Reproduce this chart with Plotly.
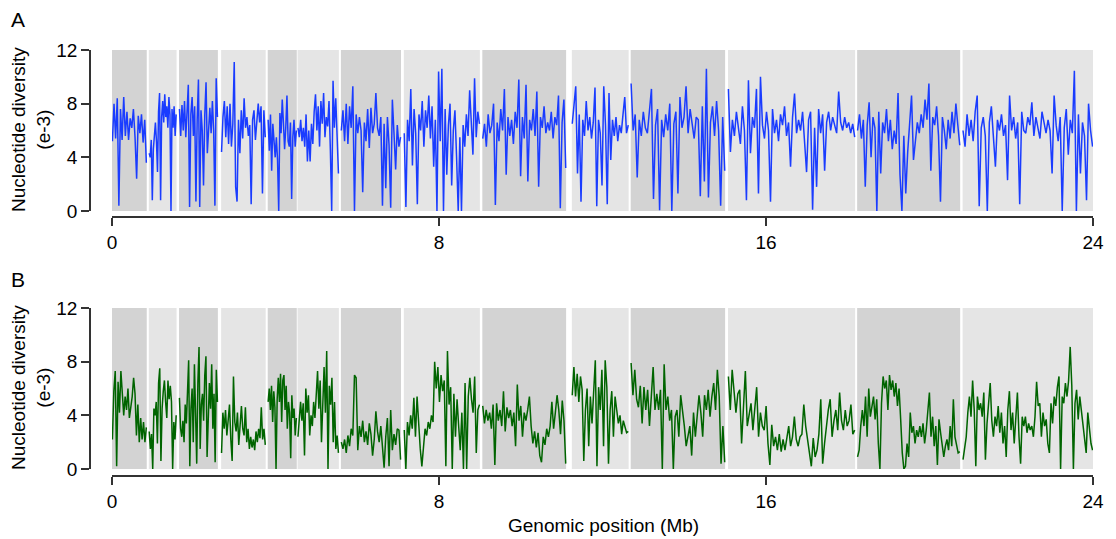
import numpy as np
import plotly.graph_objects as go

# ---------------- data ----------------
# Chromosome / scaffold segments (Mb)
seg_start = [0.0, 0.90, 1.64, 2.67, 3.81, 4.54, 5.60, 7.14, 9.06, 11.25, 12.69, 15.07, 18.23, 20.81]
seg_end = [0.85, 1.58, 2.59, 3.76, 4.52, 5.55, 7.07, 9.00, 11.11, 12.64, 15.00, 18.18, 20.75, 24.0]
seg_shade = ["dark", "light"] * 7

x_ticks = [0, 8, 16, 24]
y_ticks = [0, 4, 8, 12]

# Panel A: nucleotide diversity (e-3), per segment
a_seg01 = [5.2, 8.0, 5.4, 8.4, 0.4, 7.6, 5.3, 8.5, 5.6, 7.4, 5.3, 6.9, 6.2, 7.6, 5.5, 2.4, 7.1, 5.8, 7.2, 5.1, 6.8, 3.6]
a_seg02 = [4.3, 4.0, 5.3, 0.8, 4.6, 5.8, 6.6, 5.2, 2.9, 7.4, 8.8, 0.8, 7.0, 8.2, 6.6, 8.7, 7.0, 7.8, 6.2, 8.5, 7.2, 0.0, 7.6, 6.2, 7.8, 5.6, 7.2]
a_seg03 = [7.6, 5.6, 7.9, 6.0, 8.2, 5.5, 7.4, 9.4, 0.3, 7.2, 8.5, 5.6, 7.8, 0.7, 6.8, 9.8, 0.3, 7.5, 6.0, 1.9, 7.2, 9.6, 4.3, 6.4, 7.7, 5.8, 8.2, 6.0, 0.4, 9.9, 7.0]
a_seg04 = [4.4, 7.0, 8.2, 5.5, 7.8, 5.0, 8.0, 4.8, 6.5, 11.1, 1.8, 0.7, 6.8, 4.3, 7.5, 5.4, 8.4, 6.2, 7.0, 5.6, 6.4, 0.5, 6.8, 7.5, 5.3, 6.5, 8.0, 6.6, 7.8, 1.3, 7.5, 5.5]
a_seg05 = [6.8, 4.5, 7.2, 3.0, 6.5, 5.0, 4.0, 5.5, 3.8, 0.0, 7.3, 5.8, 8.3, 6.6, 4.6, 6.2, 8.6, 5.2, 4.8, 6.6, 0.9, 5.5, 6.8, 4.8, 6.0]
a_seg06 = [6.2, 5.5, 6.8, 5.2, 6.2, 4.8, 7.2, 3.7, 6.0, 3.7, 6.5, 5.0, 7.4, 8.7, 6.0, 7.8, 4.8, 8.2, 6.5, 8.8, 5.5, 7.0, 6.3, 8.2, 4.6, 0.0, 9.7, 6.2, 8.4, 5.5, 2.8]
a_seg07 = [6.0, 7.5, 5.2, 8.0, 5.0, 7.8, 6.2, 9.3, 0.0, 7.2, 5.8, 7.0, 6.0, 1.4, 6.6, 5.2, 7.6, 4.7, 7.7, 5.8, 6.5, 8.8, 6.2, 5.6, 7.0, 0.4, 6.5, 1.7, 7.0, 4.9, 0.25, 8.3, 5.8, 3.1, 6.4, 4.8, 5.5]
a_seg08 = [5.8, 0.3, 6.8, 5.2, 9.1, 3.4, 7.6, 5.8, 0.5, 7.2, 6.0, 8.2, 4.8, 7.5, 6.2, 8.6, 5.4, 7.8, 3.3, 6.8, 0.0, 10.4, 5.2, 10.6, 0.0, 7.6, 2.7, 6.4, 8.0, 1.9, 6.0, 7.5, 4.0, 0.0, 5.5, 0.0, 6.4, 4.8, 7.2, 5.6, 9.0, 6.2, 4.2, 9.9, 5.5, 7.4, 6.5]
a_seg09 = [5.4, 6.5, 4.8, 7.2, 5.8, 6.4, 8.0, 0.45, 6.6, 5.2, 7.6, 6.0, 9.1, 2.7, 7.0, 5.6, 6.8, 5.0, 7.4, 6.2, 9.8, 2.6, 7.0, 5.4, 9.4, 2.2, 6.8, 6.0, 7.6, 5.6, 8.9, 1.8, 7.0, 6.2, 7.8, 5.8, 6.6, 6.0, 7.4, 5.4, 7.0, 6.4, 8.6, 0.2, 6.6, 8.3, 3.2]
a_seg10 = [6.5, 8.0, 9.3, 2.8, 7.2, 0.7, 6.8, 5.6, 8.2, 6.0, 7.0, 5.4, 6.6, 9.2, 0.35, 6.8, 5.8, 1.9, 9.3, 6.4, 0.5, 8.8, 3.8, 6.8, 5.6, 7.0, 5.2, 6.4, 5.8, 7.2, 8.5, 5.8, 6.4]
a_seg11 = [9.5, 6.0, 7.2, 2.5, 6.8, 5.6, 7.4, 6.2, 5.8, 7.8, 9.1, 0.9, 6.4, 7.6, 0.05, 6.8, 5.5, 7.2, 6.0, 8.0, 0.0, 6.5, 7.4, 1.3, 8.5, 6.2, 7.0, 9.3, 5.8, 7.6, 6.4, 5.4, 7.0, 6.8, 1.1, 7.8, 2.2, 10.6, 1.0, 6.6, 7.8, 5.6, 8.2, 6.0, 0.4, 7.0, 3.0]
a_seg12 = [9.1, 4.4, 6.8, 5.6, 7.4, 6.2, 5.0, 7.8, 6.0, 0.8, 9.75, 4.3, 7.0, 6.2, 9.1, 1.3, 10.0, 6.4, 5.4, 7.4, 6.0, 0.7, 7.6, 5.8, 6.8, 5.2, 7.2, 6.4, 7.8, 5.6, 6.6, 3.3, 7.0, 8.75, 5.8, 6.8, 6.0, 7.4, 5.4, 2.9, 6.8, 7.4, 0.1, 6.2, 1.8, 7.6, 5.8, 7.2, 3.0, 6.6, 7.4, 6.0, 7.0, 6.4, 5.8, 8.9, 6.6, 6.0, 7.0, 6.2, 6.6, 5.8, 6.5, 5.5]
a_seg13 = [6.0, 7.2, 5.4, 6.8, 1.8, 6.4, 8.1, 4.0, 7.0, 6.2, 0.0, 7.4, 2.8, 6.6, 5.8, 7.6, 5.2, 6.8, 4.6, 6.0, 5.0, 8.8, 2.7, 0.0, 5.6, 1.3, 4.4, 6.4, 8.6, 3.8, 5.2, 6.6, 5.8, 7.2, 6.2, 8.3, 6.8, 9.5, 3.0, 7.0, 6.4, 7.8, 5.6, 0.7, 7.0, 6.0, 4.6, 6.8, 5.4, 7.4, 5.8, 8.0, 6.4, 4.9]
a_seg14 = [6.0, 4.8, 7.2, 5.6, 6.8, 5.2, 7.4, 8.6, 0.35, 6.2, 7.0, 5.6, 0.0, 6.6, 7.8, 5.4, 3.3, 6.8, 6.0, 7.2, 5.6, 6.4, 2.3, 8.6, 6.0, 7.0, 5.4, 6.6, 0.5, 7.4, 6.0, 5.8, 7.0, 6.4, 8.1, 5.6, 7.0, 6.2, 5.4, 7.4, 6.6, 5.8, 6.8, 6.0, 2.8, 8.6, 6.4, 5.2, 7.0, 0.0, 6.2, 7.6, 4.2, 6.8, 5.8, 10.45, 0.0, 7.2, 2.8, 6.6, 5.6, 0.8, 8.0, 6.0, 4.8]

# Panel B: nucleotide diversity (e-3), per segment
b_seg01 = [2.2, 5.8, 7.3, 0.2, 6.5, 4.2, 7.3, 5.6, 4.0, 5.4, 4.4, 6.0, 3.8, 4.6, 5.4, 6.8, 5.6, 2.5, 4.8, 2.0, 3.8, 2.2, 3.5, 2.0, 3.1]
b_seg02 = [2.8, 1.5, 2.6, 0.0, 4.5, 4.0, 5.0, 1.9, 6.4, 7.5, 0.6, 4.5, 5.8, 6.6, 5.0, 3.8, 6.6, 5.2, 6.2, 5.0, 0.0, 3.5, 2.2, 4.0]
b_seg03 = [5.3, 3.0, 2.4, 3.6, 2.0, 4.8, 3.4, 5.6, 8.1, 0.2, 4.5, 6.0, 2.0, 7.8, 4.2, 0.4, 6.4, 9.1, 1.5, 4.8, 5.6, 3.6, 7.0, 8.4, 0.9, 3.8, 6.4, 4.5, 7.8, 3.0, 5.6, 0.5, 7.4, 5.0]
b_seg04 = [1.2, 4.2, 3.0, 4.4, 2.5, 3.6, 4.8, 2.2, 0.6, 6.9, 3.5, 2.8, 4.2, 1.8, 3.8, 4.7, 3.0, 2.5, 4.6, 2.0, 3.0, 1.5, 2.4, 1.6, 2.2, 1.4, 2.8, 2.0, 3.0, 2.3, 4.6, 2.2, 3.0, 1.8]
b_seg05 = [5.0, 6.0, 4.4, 6.2, 3.5, 5.8, 4.6, 0.0, 5.2, 6.8, 5.0, 7.1, 3.5, 6.6, 7.0, 4.4, 6.2, 3.0, 5.0, 4.2, 0.8, 5.5, 3.8, 4.5, 2.5, 3.8]
b_seg06 = [2.4, 4.0, 5.0, 3.6, 4.9, 1.0, 6.0, 4.2, 5.5, 2.5, 4.0, 3.2, 5.0, 3.8, 5.5, 7.3, 4.5, 6.6, 2.0, 5.8, 7.6, 4.2, 8.8, 0.0, 6.2, 4.8, 6.8, 2.0, 5.0, 1.5, 2.5, 1.2]
b_seg07 = [2.0, 1.5, 2.2, 1.2, 2.5, 1.7, 3.0, 2.5, 7.0, 6.8, 1.4, 3.2, 2.4, 3.6, 2.0, 2.8, 1.8, 3.4, 2.6, 1.0, 2.2, 4.3, 2.8, 2.0, 3.2, 1.6, 0.1, 2.4, 3.8, 0.2, 4.4, 1.4, 2.6, 1.8, 3.0, 2.9, 0.7]
b_seg08 = [2.9, 0.0, 3.5, 2.5, 4.0, 3.0, 5.3, 2.4, 5.4, 3.2, 1.5, 0.2, 2.0, 3.0, 2.5, 3.5, 3.0, 4.0, 3.5, 8.0, 6.0, 7.6, 5.0, 7.0, 5.8, 6.6, 0.2, 8.8, 4.8, 6.1, 0.0, 5.6, 2.4, 5.2, 3.2, 1.4, 4.2, 0.0, 6.4, 0.0, 5.4, 6.8, 5.2, 4.2, 6.9, 1.2, 4.4, 4.8]
b_seg09 = [4.7, 3.4, 4.4, 3.6, 4.2, 3.0, 4.8, 0.3, 4.9, 3.6, 4.4, 3.2, 5.8, 2.8, 4.6, 3.8, 4.4, 3.2, 4.2, 1.7, 6.3, 3.6, 4.7, 2.4, 4.2, 3.6, 4.4, 5.4, 3.2, 1.9, 2.8, 1.6, 2.7, 1.0, 0.5, 2.4, 1.8, 3.0, 2.4, 3.2, 5.0, 3.0, 4.2, 5.5, 4.4, 2.6, 5.1, 3.6, 0.4]
b_seg10 = [5.5, 7.6, 5.4, 7.1, 5.0, 6.9, 5.9, 0.6, 4.4, 6.0, 1.7, 5.4, 3.4, 5.6, 8.1, 0.2, 6.1, 4.4, 7.4, 1.7, 8.1, 6.1, 0.4, 4.4, 5.8, 2.4, 5.4, 4.4, 3.4, 4.0, 2.6, 3.6, 3.2, 2.7, 2.8]
b_seg11 = [7.9, 5.5, 7.4, 5.2, 4.6, 6.2, 3.4, 6.1, 4.4, 5.9, 3.2, 5.2, 7.6, 4.4, 5.6, 4.4, 5.9, 0.0, 7.8, 4.4, 5.4, 3.6, 4.4, 0.0, 3.9, 4.4, 2.4, 5.5, 4.4, 3.2, 1.7, 2.4, 3.2, 1.0, 4.2, 2.4, 3.9, 5.5, 4.2, 2.4, 5.5, 4.4, 5.9, 3.9, 5.4, 6.4, 4.4, 7.4, 5.4, 0.4, 3.2, 0.5]
b_seg12 = [6.9, 4.4, 7.4, 5.5, 4.2, 5.6, 5.9, 1.9, 4.4, 7.3, 3.2, 4.2, 4.9, 2.9, 4.6, 6.1, 2.4, 4.2, 3.2, 2.9, 4.7, 1.9, 0.3, 3.3, 1.7, 2.4, 1.4, 2.6, 1.3, 2.2, 1.4, 2.4, 3.2, 1.7, 2.4, 3.9, 2.2, 1.7, 2.4, 2.6, 4.8, 3.2, 2.2, 1.2, 0.2, 2.3, 0.9, 1.4, 2.6, 5.2, 0.4, 1.9, 3.2, 4.4, 5.2, 2.4, 3.6, 4.4, 2.9, 5.7, 3.6, 2.9, 4.4, 3.2, 3.6, 4.8, 2.6, 2.9]
b_seg13 = [0.9, 1.4, 3.2, 4.4, 3.2, 5.4, 2.4, 6.0, 3.9, 4.7, 5.4, 3.7, 5.2, 1.9, 0.0, 4.9, 6.9, 6.0, 6.6, 4.4, 7.0, 5.9, 6.6, 5.4, 6.4, 4.7, 6.0, 3.7, 1.2, 0.0, 0.2, 1.9, 0.9, 4.2, 2.7, 3.2, 1.9, 2.9, 2.4, 3.2, 2.4, 3.4, 1.9, 2.9, 4.2, 5.7, 2.4, 3.9, 1.7, 3.2, 0.3, 3.7, 2.7, 1.9, 0.9, 1.7, 2.2, 1.4, 3.2, 1.7, 5.2, 2.4, 1.7, 1.2, 1.3]
b_seg14 = [0.7, 1.4, 2.4, 4.2, 5.4, 3.9, 6.6, 4.4, 0.2, 5.4, 4.4, 4.9, 3.9, 5.7, 0.7, 3.4, 4.9, 6.4, 3.6, 2.4, 3.9, 3.2, 4.7, 2.7, 4.2, 1.9, 3.2, 0.9, 4.4, 5.8, 2.9, 4.2, 1.9, 3.7, 5.7, 2.4, 0.4, 3.9, 3.2, 3.9, 2.7, 3.4, 2.9, 3.2, 2.4, 3.9, 6.5, 4.7, 4.9, 2.4, 4.2, 3.2, 3.7, 1.9, 1.2, 4.9, 3.4, 5.4, 4.7, 6.1, 6.9, 0.0, 5.4, 4.9, 6.4, 5.4, 6.6, 9.1, 6.2, 0.0, 4.9, 5.9, 3.7, 5.4, 4.4, 3.4, 2.4, 1.2, 4.2, 3.2, 1.9, 1.4]

panel_a = [a_seg01, a_seg02, a_seg03, a_seg04, a_seg05, a_seg06, a_seg07,
           a_seg08, a_seg09, a_seg10, a_seg11, a_seg12, a_seg13, a_seg14]
panel_b = [b_seg01, b_seg02, b_seg03, b_seg04, b_seg05, b_seg06, b_seg07,
           b_seg08, b_seg09, b_seg10, b_seg11, b_seg12, b_seg13, b_seg14]

# ---------------- figure ----------------
W, H = 1116, 539
SHADE = {"dark": "#d3d3d3", "light": "#e5e5e5"}
AXCOL = "#333333"
FONT = "Liberation Sans, Arial, sans-serif"
FS = 19


def build(segs):
    xs, ys = [], []
    for s, e, vals in zip(seg_start, seg_end, segs):
        n = len(vals)
        xs += list(np.linspace(s + 0.01, e - 0.01, n)) + [None]
        ys += list(vals) + [None]
    return xs, ys


xa, ya = build(panel_a)
xb, yb = build(panel_b)

fig = go.Figure()
fig.add_trace(go.Scatter(x=xa, y=ya, mode="lines", xaxis="x", yaxis="y",
                         line=dict(color="#1a3cff", width=1.5), showlegend=False))
fig.add_trace(go.Scatter(x=xb, y=yb, mode="lines", xaxis="x2", yaxis="y2",
                         line=dict(color="#006400", width=1.5), showlegend=False))

shapes = []
for xr, yr in (("x", "y"), ("x2", "y2")):
    for s, e, sh in zip(seg_start, seg_end, seg_shade):
        shapes.append(dict(type="rect", xref=xr, yref=yr, x0=s, x1=e, y0=0, y1=12,
                           fillcolor=SHADE[sh], line=dict(width=0), layer="below"))


def px_x(p):
    return p / W


def px_y(p):
    return 1 - p / H


xdom = [px_x(112), px_x(1093)]
common_x = dict(range=[0, 24], tickvals=x_ticks, ticks="outside", ticklen=8, tickwidth=1.5,
                tickcolor=AXCOL, showline=True, linecolor=AXCOL, linewidth=1.5,
                showgrid=False, zeroline=False, anchor="free", automargin=False,
                tickfont=dict(size=FS, color="black", family=FONT), domain=xdom)
common_y = dict(range=[0, 12], tickvals=y_ticks, ticks="outside", ticklen=8, tickwidth=1.5,
                tickcolor=AXCOL, showline=True, linecolor=AXCOL, linewidth=1.5,
                showgrid=False, zeroline=False, anchor="free", position=px_x(90),
                automargin=False,
                tickfont=dict(size=FS, color="black", family=FONT))

fig.update_layout(
    width=W, height=H,
    margin=dict(l=0, r=0, t=0, b=0, pad=0, autoexpand=False),
    paper_bgcolor="white", plot_bgcolor="white",
    font=dict(family=FONT, color="black", size=FS),
    xaxis=dict(common_x, position=px_y(217)),
    yaxis=dict(common_y, domain=[px_y(211), px_y(50)]),
    xaxis2=dict(common_x, position=px_y(476)),
    yaxis2=dict(common_y, domain=[px_y(469), px_y(308)]),
    shapes=shapes,
    annotations=[
        dict(text="A", x=px_x(18), y=px_y(20), xref="paper", yref="paper",
             showarrow=False, font=dict(size=21), xanchor="center", yanchor="middle"),
        dict(text="B", x=px_x(18), y=px_y(279), xref="paper", yref="paper",
             showarrow=False, font=dict(size=21), xanchor="center", yanchor="middle"),
        dict(text="Nucleotide diversity<br>(e-3)", x=px_x(31), y=px_y(130),
             xref="paper", yref="paper", showarrow=False, textangle=-90,
             font=dict(size=FS), xanchor="center", yanchor="middle"),
        dict(text="Nucleotide diversity<br>(e-3)", x=px_x(31), y=px_y(388),
             xref="paper", yref="paper", showarrow=False, textangle=-90,
             font=dict(size=FS), xanchor="center", yanchor="middle"),
        dict(text="Genomic position (Mb)", x=px_x(603), y=px_y(525),
             xref="paper", yref="paper", showarrow=False,
             font=dict(size=FS), xanchor="center", yanchor="middle"),
    ],
)

fig.write_html("out.html", config={"displayModeBar": False},
               post_script="document.body.style.margin='0';document.body.style.overflow='hidden';")
